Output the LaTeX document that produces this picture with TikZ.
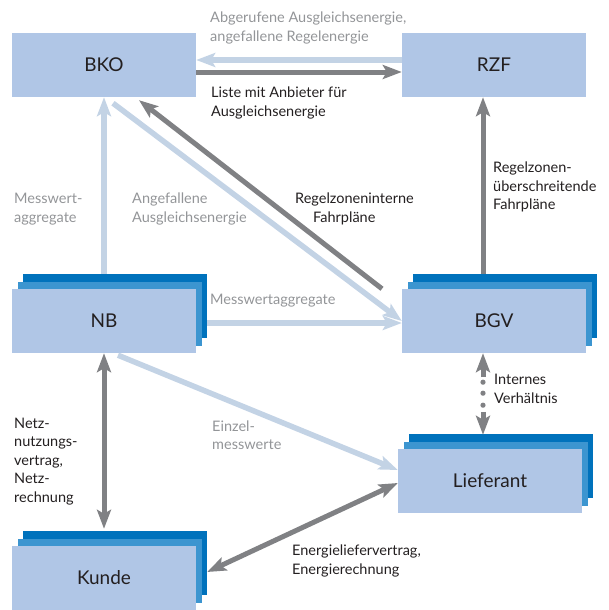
\documentclass[tikz,border=0pt]{standalone}
\usepackage{fontspec}
\setmainfont{Lato}
\usetikzlibrary{arrows.meta,shadows}

\definecolor{boxfill}{HTML}{B0C6E6}
\definecolor{boxmid}{HTML}{3C95D0}
\definecolor{boxdark}{HTML}{0072BC}
\definecolor{arrowlight}{HTML}{C3D3E5}
\definecolor{arrowdark}{HTML}{808184}
\definecolor{textgray}{HTML}{939598}
\definecolor{textdark}{HTML}{231F20}

\tikzset{
  box/.style={fill=boxfill, minimum width=184pt, minimum height=64pt, inner sep=0pt,
    text=textdark, font=\fontsize{19}{21}\selectfont},
  stackbox/.style={box,
    general shadow={fill=boxdark, shadow xshift=11pt, shadow yshift=15pt},
    general shadow={fill=boxmid, shadow xshift=6pt, shadow yshift=7pt}},
  tip/.tip={Stealth[length=19pt,width=14pt,inset=4pt]},
  lightarrow/.style={draw=arrowlight, line width=5.5pt, -tip},
  darkarrow/.style={draw=arrowdark, line width=5pt, -tip},
  lbl/.style={anchor=west, align=left, inner sep=0pt, text=textdark,
    font=\fontsize{14.5}{18.5}\selectfont},
  graylbl/.style={lbl, text=textgray}
}

\begin{document}
\begin{tikzpicture}[x=1pt,y=-1pt]
  \useasboundingbox (0,0) rectangle (608,610);

  \node[box] (bko) at (104,65) {BKO};
  \node[box] (rzf) at (494,65) {RZF};
  \node[stackbox] (nb) at (104,321) {NB};
  \node[stackbox] (bgv) at (494,321) {BGV};
  \node[stackbox] (lief) at (490,481) {Lieferant};
  \node[stackbox] (kunde) at (104,578) {Kunde};

  % BKO <-> RZF
  \draw[lightarrow] ([yshift=5pt]rzf.west) -- ([yshift=5pt]bko.east);
  \draw[darkarrow] ([yshift=-7pt]bko.east) -- ([yshift=-7pt]rzf.west);
  \node[graylbl] (abgerufen) at (210,28) {Abgerufene Ausgleichsenergie,\\angefallene Regelenergie};
  \node[lbl] (liste) at (211,103) {Liste mit Anbieter für\\Ausgleichsenergie};

  % zum BKO
  \draw[lightarrow] ([yshift=15pt]nb.north) -- (bko.south);
  \draw[lightarrow] ([xshift=9pt,yshift=-6pt]bko.south) -- (bgv.west);
  \draw[darkarrow] ([xshift=-112pt]bgv.north) -- ([xshift=35pt,yshift=-3pt]bko.south);
  \node[graylbl] (aggr) at (14,209) {Messwert-\\aggregate};
  \node[graylbl] (angef) at (132,209) {Angefallene\\Ausgleichsenergie};
  \node[lbl] (intern) at (295,209) {Regelzoneninterne\\\hspace*{18pt}Fahrpläne};

  % zur RZF
  \draw[darkarrow] ([xshift=-11pt,yshift=15pt]bgv.north) -- ([xshift=-11pt]rzf.south);
  \node[lbl] (ueber) at (493,187) {Regelzonen-\\überschreitende\\Fahrpläne};

  % vom NB
  \draw[lightarrow] ([xshift=11pt,yshift=-2pt]nb.east) -- ([yshift=-2pt]bgv.west);
  \node[graylbl] (aggr2) at (210,301) {Messwertaggregate};
  \draw[lightarrow] ([xshift=14pt,yshift=-2pt]nb.south) -- ([yshift=11pt]lief.west);
  \node[graylbl] (einzel) at (212,435) {Einzel-\\messwerte};

  % BGV - Lieferant
  \draw[darkarrow] ([xshift=-11pt,yshift=-24pt]bgv.south) -- ([xshift=-11pt]bgv.south);
  \foreach \d in {29,40,52}{
    \fill[arrowdark] ([xshift=-11pt,yshift=-\d pt]bgv.south) circle (2.6pt);
  }
  \draw[darkarrow] ([xshift=-7pt,yshift=37pt]lief.north) -- ([xshift=-7pt,yshift=14pt]lief.north);
  \node[lbl] (verh) at (494,389) {Internes\\Verhältnis};

  % zum Kunden
  \draw[darkarrow, tip-tip] (nb.south) -- ([yshift=17pt]kunde.north);
  \node[lbl] (netz) at (14,461.5) {Netz-\\nutzungs-\\vertrag,\\Netz-\\rechnung};
  \draw[darkarrow, tip-tip] ([yshift=-2pt]lief.west) -- ([xshift=11pt,yshift=6pt]kunde.east);
  \node[lbl] (energie) at (292,561) {Energieliefervertrag,\\Energierechnung};
\end{tikzpicture}
\end{document}
